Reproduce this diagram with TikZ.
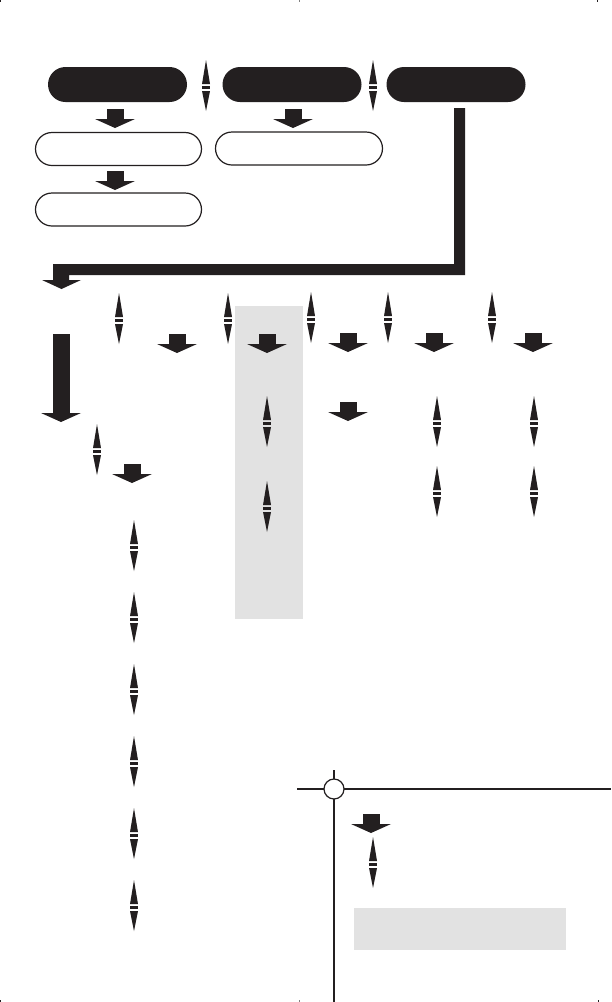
\documentclass[tikz,border=0pt]{standalone}
\usetikzlibrary{shapes.misc}
\definecolor{ink}{HTML}{231F20}
\definecolor{shade}{HTML}{E2E2E2}
\tikzset{
  blackpill/.style={rounded rectangle, fill=ink, draw=none, inner sep=0pt, minimum width=139pt, minimum height=35pt},
  whitepill/.style={rounded rectangle, fill=white, draw=ink, line width=1.2pt, inner sep=0pt, minimum height=33pt},
  blockarrow/.pic={
    \fill[ink] (-8.5,0) rectangle (8.5,10.5);
    \fill[ink] (-20,10) -- (20,10) -- (0,19) -- cycle;
  },
  dblarrow/.pic={
    \fill[ink] (0,0) -- (4,24) -- (-4,24) -- cycle;
    \fill[ink] (-4,25.8) rectangle (4,29.2);
    \fill[ink] (-4,31) -- (4,31) -- (0,51) -- cycle;
  },
  shadebox/.style={fill=shade, draw=none},
  rule/.style={draw=ink, line width=1.2pt},
  tick/.style={draw=ink, line width=0.8pt}
}
\begin{document}
\begin{tikzpicture}[x=1pt,y=-1pt]
\useasboundingbox (0,0) rectangle (611,1002);
% shaded panels
\fill[shadebox] (235,306) rectangle (303,619);
\fill[shadebox] (354,908) rectangle (566,950);
% black pills
\node[blackpill] (p1) at (117.5,84.5) {};
\node[blackpill] (p2) at (292,84.5) {};
\node[blackpill] (p3) at (456,84.5) {};
% white pills
\node[whitepill, minimum width=166pt] (w1) at (118.5,149) {};
\node[whitepill, minimum width=166pt] (w2) at (118.5,209.5) {};
\node[whitepill, minimum width=167pt] (w3) at (299,148.5) {};
% L-shaped big arrow
\fill[ink] (454,108) -- (465,108) -- (465,275) -- (69,275) -- (69,280)
  -- (81,280) -- (61.5,289) -- (42,280) -- (53,280) -- (53,264) -- (454,264) -- cycle;
% big left down arrow
\fill[ink] (53,334) rectangle (70,413.5);
\fill[ink] (41,413) -- (81,413) -- (61,422) -- cycle;
% block arrows
\foreach \x/\y in {115/109, 115/171, 293/109,
                   177/334, 267/334, 348/333, 434/333, 533/333,
                   348/402, 132/464, 371/814}
  \pic at (\x,\y) {blockarrow};
% double arrows
\foreach \x/\y in {206/60, 373/60,
                   119/293, 228/293, 311/292, 388/292, 492/292,
                   267/396, 267/481, 437/396, 437/466, 534/396, 534/466,
                   97/424,
                   134/520, 134/592, 134/664, 134/736, 134/808, 134/880,
                   373/837}
  \pic at (\x,\y) {dblarrow};
% legend frame
\coordinate (hl) at (297,789);
\coordinate (hr) at (611,789);
\coordinate (vt) at (334,770);
\coordinate (vb) at (334,1002);
\draw[rule] (hl) -- (hr);
\draw[rule] (vt) -- (vb);
\node[circle, draw=ink, fill=white, line width=1.2pt, minimum size=20pt, inner sep=0pt] (ring) at (334,789) {};
% crop ticks
\draw[tick] (0.4,0) -- (0.4,2);
\draw[tick, draw=gray] (299,0) -- (299,2);
\draw[tick] (597,0) -- (597,2);
\draw[tick] (0.4,1000) -- (0.4,1002);
\draw[tick, draw=gray] (299,1000) -- (299,1002);
\draw[tick] (598,1000) -- (598,1002);
\end{tikzpicture}
\end{document}
